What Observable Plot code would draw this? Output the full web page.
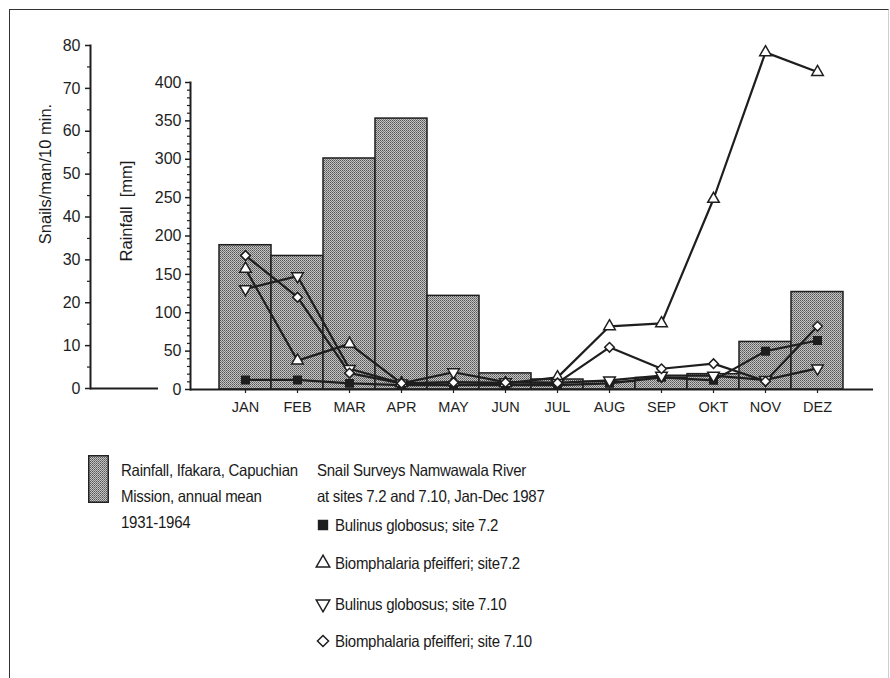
<!DOCTYPE html>
<html><head><meta charset="utf-8">
<script src="https://cdn.jsdelivr.net/npm/d3@7"></script>
<script src="https://cdn.jsdelivr.net/npm/@observablehq/plot@0.6"></script>
<style>
body{margin:0;background:#fff;}
#wrap{position:relative;width:890px;height:678px;overflow:hidden;font-family:"Liberation Sans",Arial,sans-serif;color:#1a1a1a;background:#fff;}
#frame{position:absolute;left:9px;top:9px;width:878px;height:720px;border-left:1.5px solid #333;border-top:1.5px solid #333;border-right:1px solid #cfcfcf;}
.layer{position:absolute;left:0;top:0;}
.ytitle{position:absolute;white-space:nowrap;font-size:16.5px;transform:translate(-50%,-50%) rotate(-90deg);}
.leg{position:absolute;font-size:16.5px;line-height:26px;letter-spacing:-0.3px;white-space:nowrap;transform:scaleX(0.91);transform-origin:0 0;}
.item{position:absolute;left:316px;height:26px;display:flex;align-items:center;font-size:16.5px;letter-spacing:-0.3px;white-space:nowrap;}
.item span{display:inline-block;transform:scaleX(0.91);transform-origin:0 50%;}
.item svg{width:14px;height:14px;margin-right:5px;overflow:visible;}
</style></head>
<body>
<div id="wrap">
  <div id="frame"></div>
  <div class="layer" id="rain"></div>
  <div class="layer" id="snail"></div>
  <div class="ytitle" style="left:45px;top:174px;">Snails/man/10 min.</div>
  <div class="ytitle" style="left:126px;top:211px;">Rainfall&nbsp; [mm]</div>
  <svg style="position:absolute;left:88px;top:455px;" width="21" height="48"><rect x="0.75" y="0.75" width="19.5" height="46.5" fill="url(#stipL)" stroke="#222" stroke-width="1.5"/>
    <defs><pattern id="stipL" width="2" height="2" patternUnits="userSpaceOnUse"><rect width="2" height="2" fill="#c4c4c4"/><rect width="1" height="1" fill="#555"/><rect x="1" y="1" width="1" height="1" fill="#777"/></pattern></defs></svg>
  <div class="leg" style="left:121px;top:457px;">Rainfall, Ifakara, Capuchian<br>Mission, annual mean<br>1931-1964</div>
  <div class="leg" style="left:317px;top:457px;">Snail Surveys Namwawala River<br>at sites 7.2 and 7.10, Jan-Dec 1987</div>
  <div id="items"></div>
</div>
<script>
const months = ["JAN","FEB","MAR","APR","MAY","JUN","JUL","AUG","SEP","OKT","NOV","DEZ"];
const rainfall = [188, 174, 301, 353, 122, 21, 13, 10, 15, 20, 62, 127];
const bulinus72 = [2, 2, 1.2, 0.8, 0.8, 0.8, 0.8, 1.2, 2.6, 1.9, 8.7, 11.2];
const biomph72 = [27.9, 6.5, 10.4, 1.2, 1.5, 1.2, 2.6, 14.5, 15.2, 44.2, 78.4, 73.8];
const bulinus710 = [23.2, 26.2, 4.6, 1.2, 3.8, 1.5, 1.3, 1.9, 3.0, 3.0, 2.0, 4.7];
const biomph710 = [31, 21.3, 3.6, 1.2, 1.4, 1.4, 1.3, 9.6, 4.6, 5.8, 1.7, 14.5];
const rainTicks = [0, 50, 100, 150, 200, 250, 300, 350, 400];
const snailTicks = [0, 10, 20, 30, 40, 50, 60, 70, 80];
const seriesNames = ["Bulinus globosus; site 7.2", "Biomphalaria pfeifferi; site7.2", "Bulinus globosus; site 7.10", "Biomphalaria pfeifferi; site 7.10"];

const triangleDown = {
  draw(ctx, size) {
    const y = -Math.sqrt(size / (Math.sqrt(3) * 3));
    const s = Math.sqrt(3);
    ctx.moveTo(0, -y * 2);
    ctx.lineTo(-s * y, y);
    ctx.lineTo(s * y, y);
    ctx.closePath();
  }
};

const font = '"Liberation Sans", Arial, sans-serif';
const ink = "#1e1e1e";
const xRange = [218, 844];

const rainData = months.map((m, i) => ({month: m, rain: rainfall[i]}));
const rainMinor = d3.range(10, 400, 10).filter(v => v % 50 !== 0);
const snailMinor = d3.range(5, 80, 10);

const rainPlot = Plot.plot({
  width: 890, height: 420,
  marginLeft: 190, marginRight: 17, marginTop: 82, marginBottom: 31,
  style: {background: "transparent", fontFamily: font, color: ink, overflow: "visible"},
  x: {type: "band", domain: months, range: xRange, padding: 0},
  y: {domain: [0, 400]},
  marks: [
    Plot.barY(rainData, {x: "month", y: "rain", fill: "url(#stip)", stroke: ink, strokeWidth: 1.5, inset: 0}),
    Plot.ruleY([0], {stroke: ink, strokeWidth: 2}),
    Plot.frame({anchor: "left", stroke: ink, strokeWidth: 2}),
    Plot.axisY({ticks: rainTicks, tickSize: 5, tickPadding: 4, label: null, fontSize: 16, strokeWidth: 1.5}),
    Plot.axisY({ticks: rainMinor, tickSize: 3, tickFormat: () => "", label: null, strokeWidth: 1.2}),
    Plot.axisX({tickSize: 4, tickPadding: 8, label: null, fontSize: 14.5, strokeWidth: 1.2})
  ]
});
// stipple pattern for the rainfall bars
const defs = d3.select(rainPlot).insert("defs", ":first-child");
const pat = defs.append("pattern").attr("id", "stip").attr("width", 2).attr("height", 2).attr("patternUnits", "userSpaceOnUse");
pat.append("rect").attr("width", 2).attr("height", 2).attr("fill", "#c4c4c4");
pat.append("rect").attr("width", 1).attr("height", 1).attr("fill", "#555");
pat.append("rect").attr("x", 1).attr("y", 1).attr("width", 1).attr("height", 1).attr("fill", "#777");
document.getElementById("rain").appendChild(rainPlot);

const series = [
  {name: seriesNames[0], values: bulinus72, symbol: "square", fill: ink, r: 4.2},
  {name: seriesNames[1], values: biomph72, symbol: "triangle", fill: "white", r: 4.3},
  {name: seriesNames[2], values: bulinus710, symbol: triangleDown, fill: "white", r: 4.3},
  {name: seriesNames[3], values: biomph710, symbol: "diamond2", fill: "white", r: 4.3}
];
const long = series.map(s => months.map((m, i) => ({month: m, value: s.values[i], series: s.name})));

const snailPlot = Plot.plot({
  width: 890, height: 420,
  marginLeft: 90, marginRight: 732, marginTop: 45, marginBottom: 32,
  style: {background: "transparent", fontFamily: font, color: ink, overflow: "visible"},
  x: {type: "band", domain: months, range: xRange, padding: 0, axis: null},
  y: {domain: [0, 80]},
  marks: [
    Plot.ruleY([0], {stroke: ink, strokeWidth: 2}),
    Plot.frame({anchor: "left", stroke: ink, strokeWidth: 2}),
    Plot.axisY({ticks: snailTicks, tickSize: 5, tickPadding: 5, label: null, fontSize: 16, strokeWidth: 1.5}),
    Plot.axisY({ticks: snailMinor, tickSize: 3, tickFormat: () => "", label: null, strokeWidth: 1.2}),
    ...long.map(d => Plot.line(d, {x: "month", y: "value", stroke: ink, strokeWidth: 2.2})),
    ...long.map((d, k) => Plot.dot(d, {x: "month", y: "value", symbol: series[k].symbol, r: series[k].r, fill: series[k].fill, stroke: ink, strokeWidth: 1.5}))
  ]
});
document.getElementById("snail").appendChild(snailPlot);

// legend items
const itemTops = [512, 550, 591, 628];
const items = document.getElementById("items");
series.forEach((s, k) => {
  const div = document.createElement("div");
  div.className = "item";
  div.style.top = itemTops[k] + "px";
  const sym = typeof s.symbol === "string"
    ? {square: d3.symbolSquare, triangle: d3.symbolTriangle, diamond2: d3.symbolDiamond2}[s.symbol]
    : s.symbol;
  const path = d3.symbol(sym, Math.PI * 5 * 5)();
  div.innerHTML = `<svg viewBox="-7 -7 14 14"><path d="${path}" fill="${s.fill}" stroke="${ink}" stroke-width="1.5"/></svg><span>${s.name}</span>`;
  items.appendChild(div);
});
</script>
</body></html>
